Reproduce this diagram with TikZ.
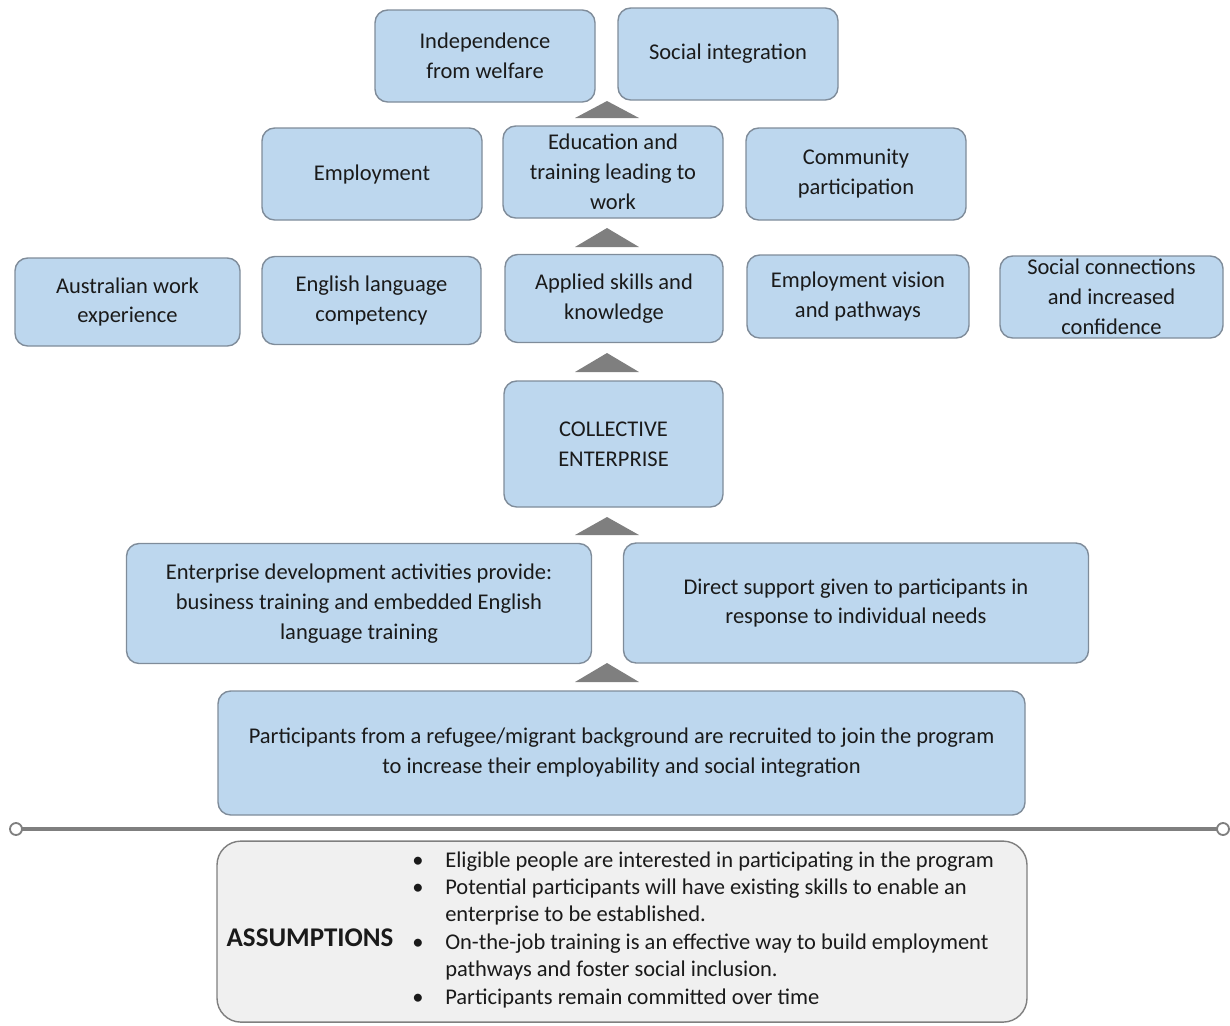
\documentclass[tikz,border=0pt]{standalone}
\usepackage{fontspec}
\setmainfont{Carlito}
\usetikzlibrary{positioning,calc}
\definecolor{tcBlue}{HTML}{BDD7EE}
\definecolor{tcEdge}{HTML}{7F8C9A}
\definecolor{tcGrey}{HTML}{7F7F7F}
\definecolor{tcAsm}{HTML}{F0F0F0}
\definecolor{tcInk}{HTML}{1A1A1A}
\tikzset{
  box/.style={draw=tcEdge, fill=tcBlue, line width=1pt, rounded corners=9pt, inner sep=0pt, align=center, text=tcInk, font=\fontsize{16}{21.3}\selectfont},
  boxS/.style={box, minimum width=5.5cm, minimum height=2.3cm},
  boxM/.style={box, minimum width=5.5cm, minimum height=2.2cm},
  boxW/.style={box, minimum width=11.625cm, minimum height=3.0cm},
  asm/.style={draw=tcGrey, fill=tcAsm, line width=1pt, rounded corners=17pt, inner sep=0pt},
  upTri/.style={fill=tcGrey},
  rule/.style={draw=tcGrey, line width=2.8pt},
  ruleEnd/.style={draw=tcGrey, fill=white, line width=1.3pt},
}
% base y, apex y
\newcommand{\upTri}[2]{\fill[upTri] (14.375,#1) -- (15.975,#1) -- (15.175,#2) -- cycle;}
\newcommand{\asmItem}[1]{\makebox[0.825cm][l]{\textbullet}#1}
\newcommand{\asmMore}[1]{\hspace*{0.825cm}#1}

\begin{document}
\begin{tikzpicture}
  \useasboundingbox (0,0) rectangle (30.75,-25.625);
  % outcomes
  \node[boxS] (indep) at (12.125,-1.4) {Independence\\from welfare};
  \node[boxS] (socint) at (18.2,-1.35) {Social integration};
  \node[boxS] (employ) at (9.3,-4.35) {Employment};
  \node[boxS] (edu) at (15.325,-4.3) {Education and\\training leading to\\work};
  \node[boxS] (commun) at (21.4,-4.35) {Community\\participation};
  % short-term outcomes
  \node[boxM, minimum width=5.625cm] (auswork) at (3.1875,-7.55) {Australian work\\experience};
  \node[boxM, minimum width=5.475cm] (english) at (9.2875,-7.5125) {English language\\competency};
  \node[boxM, minimum width=5.45cm] (applied) at (15.35,-7.4625) {Applied skills and\\knowledge};
  \node[boxM, minimum width=5.55cm, minimum height=2.075cm] (vision) at (21.45,-7.4125) {Employment vision\\and pathways};
  \node[boxM, minimum width=5.575cm, minimum height=2.05cm] (socconn) at (27.7875,-7.425) {Social connections\\and increased\\confidence};
  % enterprise
  \node[box, minimum width=5.475cm, minimum height=3.15cm] (collect) at (15.3375,-11.1) {COLLECTIVE\\ENTERPRISE};
  \node[boxW] (entdev) at (8.975,-15.0875) {Enterprise development activities provide:\\business training and embedded English\\language training};
  \node[boxW] (direct) at (21.4,-15.075) {Direct support given to participants in\\response to individual needs};
  \node[box, minimum width=20.175cm, minimum height=3.1cm] (recruit) at (15.5375,-18.825) {Participants from a refugee/migrant background are recruited to join the program\\to increase their employability and social integration};
  % arrows up
  \upTri{-2.95}{-2.525}
  \upTri{-6.175}{-5.7}
  \upTri{-9.3}{-8.825}
  \upTri{-13.375}{-12.925}
  \upTri{-17.05}{-16.575}
  % divider
  \coordinate (ruleL) at (0.4,-20.725);
  \coordinate (ruleR) at (30.575,-20.725);
  \draw[rule] (ruleL) -- (ruleR);
  \filldraw[ruleEnd] (ruleL) circle (0.15);
  \filldraw[ruleEnd] (ruleR) circle (0.15);
  % assumptions
  \node[asm, minimum width=20.25cm, minimum height=4.525cm] (asmBox) at (15.55,-23.29) {};
  \node[text=tcInk, font=\fontsize{19.2}{23}\selectfont\bfseries] (asmHead) at (7.75,-23.45) {ASSUMPTIONS};
  \node[anchor=west, inner sep=0pt, align=left, text=tcInk, font=\fontsize{16}{19.5}\selectfont] (asmList) at (10.3,-23.24)
    {\asmItem{Eligible people are interested in participating in the program}\\
     \asmItem{Potential participants will have existing skills to enable an}\\
     \asmMore{enterprise to be established.}\\
     \asmItem{On-the-job training is an effective way to build employment}\\
     \asmMore{pathways and foster social inclusion.}\\
     \asmItem{Participants remain committed over time}};
\end{tikzpicture}
\end{document}
